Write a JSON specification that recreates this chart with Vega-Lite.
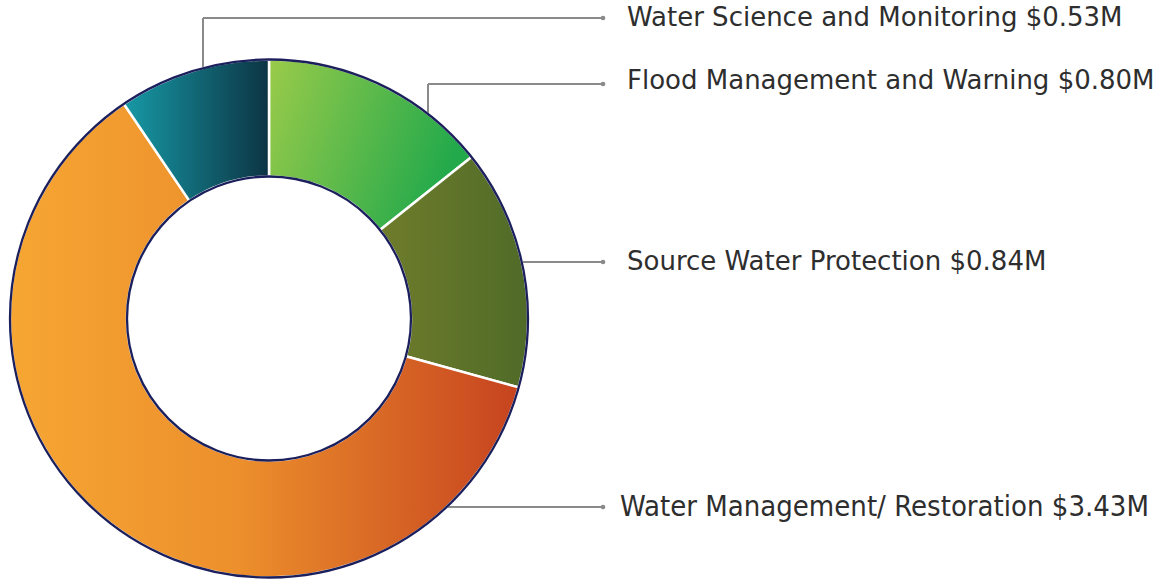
{
  "$schema": "https://vega.github.io/schema/vega-lite/v6.json",
  "width": 1163,
  "height": 581,
  "padding": 0,
  "autosize": {"type": "none"},
  "background": "white",
  "config": {"view": {"stroke": null}},
  "datasets": {
    "slices": [
      {"category": "Flood Management and Warning", "value": 0.80, "rank": 1},
      {"category": "Source Water Protection", "value": 0.84, "rank": 2},
      {"category": "Water Management/ Restoration", "value": 3.43, "rank": 3},
      {"category": "Water Science and Monitoring", "value": 0.53, "rank": 4}
    ],
    "leaders": [
      {"x": 203, "y": 72, "x2": 203, "y2": 18},
      {"x": 203, "y": 18, "x2": 603, "y2": 18},
      {"x": 428, "y": 118, "x2": 428, "y2": 84},
      {"x": 428, "y": 84, "x2": 603, "y2": 84},
      {"x": 515, "y": 262, "x2": 603, "y2": 262},
      {"x": 440, "y": 507, "x2": 603, "y2": 507}
    ],
    "labels": [
      {"x": 627, "y": 18, "end": 603, "ly": 18, "text": "Water Science and Monitoring $0.53M", "grp": "a"},
      {"x": 627, "y": 81, "end": 603, "ly": 84, "text": "Flood Management and Warning $0.80M", "grp": "a"},
      {"x": 627, "y": 262, "end": 603, "ly": 262, "text": "Source Water Protection $0.84M", "grp": "a"},
      {"x": 620, "y": 507, "end": 603, "ly": 507, "text": "Water Management/ Restoration $3.43M", "grp": "b"}
    ]
  },
  "layer": [
    {
      "data": {"name": "leaders"},
      "mark": {"type": "rule", "color": "#8a8a8a", "strokeWidth": 2},
      "encoding": {
        "x": {"field": "x", "type": "quantitative", "scale": {"domain": [0, 1163], "nice": false, "zero": false}, "axis": null},
        "y": {"field": "y", "type": "quantitative", "scale": {"domain": [0, 581], "nice": false, "zero": false, "reverse": true}, "axis": null},
        "x2": {"field": "x2"},
        "y2": {"field": "y2"}
      }
    },
    {
      "data": {"name": "slices"},
      "transform": [
        {"stack": "value", "groupby": [], "sort": [{"field": "rank", "order": "ascending"}], "as": ["v0", "v1"]}
      ],
      "layer": [
        {
          "transform": [{"filter": "datum.category === 'Flood Management and Warning'"}],
          "mark": {"type": "arc", "radius": 259, "radius2": 142, "stroke": "white", "strokeWidth": 2.5,
            "color": {"gradient": "linear", "x1": 0, "y1": 0, "x2": 1, "y2": 0.3, "stops": [{"offset": 0, "color": "#9acb4a"}, {"offset": 1, "color": "#22a94b"}]}},
          "encoding": {
            "theta": {"field": "v0", "type": "quantitative", "scale": {"domain": [0, 5.6], "nice": false, "zero": true}},
            "theta2": {"field": "v1"},
            "x": {"datum": 269, "type": "quantitative"},
            "y": {"datum": 318.5, "type": "quantitative"}
          }
        },
        {
          "transform": [{"filter": "datum.category === 'Source Water Protection'"}],
          "mark": {"type": "arc", "radius": 259, "radius2": 142, "stroke": "white", "strokeWidth": 2.5,
            "color": {"gradient": "linear", "x1": 0, "y1": 0, "x2": 1, "y2": 0, "stops": [{"offset": 0, "color": "#6f7c2b"}, {"offset": 1, "color": "#4f6b28"}]}},
          "encoding": {
            "theta": {"field": "v0", "type": "quantitative"},
            "theta2": {"field": "v1"},
            "x": {"datum": 269, "type": "quantitative"},
            "y": {"datum": 318.5, "type": "quantitative"}
          }
        },
        {
          "transform": [{"filter": "datum.category === 'Water Management/ Restoration'"}],
          "mark": {"type": "arc", "radius": 259, "radius2": 142, "stroke": "white", "strokeWidth": 2.5,
            "color": {"gradient": "linear", "x1": 0, "y1": 0, "x2": 1, "y2": 0, "stops": [{"offset": 0, "color": "#f6a633"}, {"offset": 0.45, "color": "#ec8f2c"}, {"offset": 1, "color": "#c6431f"}]}},
          "encoding": {
            "theta": {"field": "v0", "type": "quantitative"},
            "theta2": {"field": "v1"},
            "x": {"datum": 269, "type": "quantitative"},
            "y": {"datum": 318.5, "type": "quantitative"}
          }
        },
        {
          "transform": [{"filter": "datum.category === 'Water Science and Monitoring'"}],
          "mark": {"type": "arc", "radius": 259, "radius2": 142, "stroke": "white", "strokeWidth": 2.5,
            "color": {"gradient": "linear", "x1": 0, "y1": 0, "x2": 1, "y2": 0, "stops": [{"offset": 0, "color": "#1799a6"}, {"offset": 1, "color": "#0c3443"}]}},
          "encoding": {
            "theta": {"field": "v0", "type": "quantitative"},
            "theta2": {"field": "v1"},
            "x": {"datum": 269, "type": "quantitative"},
            "y": {"datum": 318.5, "type": "quantitative"}
          }
        }
      ]
    },
    {
      "data": {"values": [{"ring": "outline"}]},
      "mark": {"type": "arc", "radius": 259, "radius2": 142, "theta": 0, "theta2": 6.2832, "fill": "white", "fillOpacity": 0, "stroke": "#1b1f5c", "strokeWidth": 2.3},
      "encoding": {
        "x": {"datum": 269, "type": "quantitative"},
        "y": {"datum": 318.5, "type": "quantitative"}
      }
    },
    {
      "data": {"name": "labels"},
      "mark": {"type": "point", "filled": true, "shape": "circle", "size": 22, "color": "#8a8a8a", "opacity": 1},
      "encoding": {
        "x": {"field": "end", "type": "quantitative"},
        "y": {"field": "ly", "type": "quantitative"}
      }
    },
    {
      "data": {"name": "labels"},
      "transform": [{"filter": "datum.grp === 'a'"}],
      "mark": {"type": "text", "align": "left", "baseline": "middle", "font": "DejaVu Sans", "fontSize": 26, "color": "#2e2e2e"},
      "encoding": {
        "x": {"field": "x", "type": "quantitative"},
        "y": {"field": "y", "type": "quantitative"},
        "text": {"field": "text"}
      }
    },
    {
      "data": {"name": "labels"},
      "transform": [{"filter": "datum.grp === 'b'"}],
      "mark": {"type": "text", "align": "left", "baseline": "middle", "font": "DejaVu Sans Condensed, Liberation Sans Narrow, DejaVu Sans", "fontSize": 29, "color": "#2e2e2e"},
      "encoding": {
        "x": {"field": "x", "type": "quantitative"},
        "y": {"field": "y", "type": "quantitative"},
        "text": {"field": "text"}
      }
    }
  ]
}
